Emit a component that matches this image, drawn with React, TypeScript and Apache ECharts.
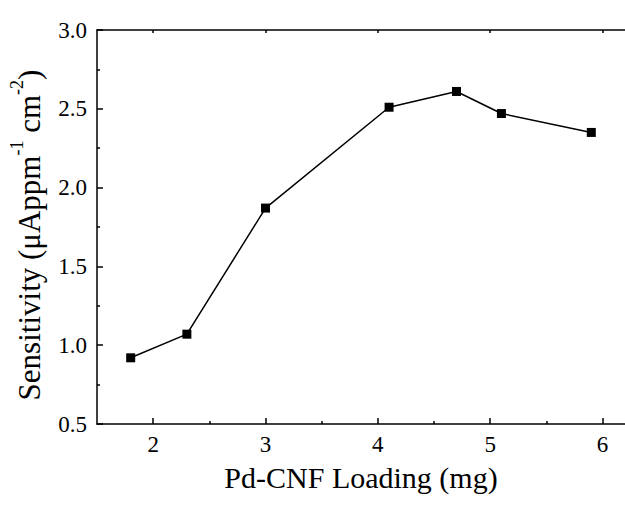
import React, { useEffect, useRef } from "react";
import * as echarts from "echarts";

const loading = [1.8, 2.3, 3.0, 4.1, 4.7, 5.1, 5.9];
const sensitivity = [0.92, 1.07, 1.87, 2.51, 2.61, 2.47, 2.35];
const xMajorTicks = [2, 3, 4, 5, 6];
const xMinorTicks = [2.5, 3.5, 4.5, 5.5];
const xTitle = "Pd-CNF Loading (mg)";

const FONT = '"Liberation Serif", "Times New Roman", serif';

export default function App() {
  const ref = useRef<HTMLDivElement>(null);
  useEffect(() => {
    if (!ref.current) return;
    const chart = echarts.init(ref.current, null, { renderer: "svg" });
    const data = loading.map((x, i) => [x, sensitivity[i]]);
    const lineStyle = { color: "#000", width: 1.5 };
    chart.setOption({
      animation: false,
      backgroundColor: "#fff",
      grid: { left: 96, top: 30, width: 531, height: 394 },
      xAxis: [
        {
          type: "value",
          position: "bottom",
          min: 1.5,
          max: 6.2,
          axisLine: { show: true, onZero: false, lineStyle },
          axisTick: { show: true, inside: true, length: 6, customValues: xMajorTicks, lineStyle },
          axisLabel: { customValues: xMajorTicks, fontFamily: FONT, fontSize: 23, color: "#000", margin: 9 },
          splitLine: { show: false },
          name: xTitle,
          nameLocation: "middle",
          nameGap: 38,
          nameTextStyle: { fontFamily: FONT, fontSize: 30, color: "#000" },
        },
        {
          type: "value",
          position: "bottom",
          min: 1.5,
          max: 6.2,
          axisLine: { show: false },
          axisTick: { show: true, inside: true, length: 3, customValues: xMinorTicks, lineStyle },
          axisLabel: { show: false },
          splitLine: { show: false },
        },
        {
          type: "value",
          position: "top",
          min: 1.5,
          max: 6.2,
          axisLine: { show: true, onZero: false, lineStyle },
          axisTick: { show: true, inside: true, length: 3, customValues: xMajorTicks, lineStyle },
          axisLabel: { show: false },
          splitLine: { show: false },
        },
      ],
      yAxis: {
        type: "value",
        min: 0.5,
        max: 3.0,
        interval: 0.5,
        axisLine: { show: true, onZero: false, lineStyle },
        axisTick: { show: true, inside: true, length: 6, lineStyle },
        minorTick: { show: true, splitNumber: 2, length: 3, lineStyle },
        axisLabel: {
          fontFamily: FONT,
          fontSize: 23,
          color: "#000",
          margin: 10,
          formatter: (v: number) => v.toFixed(1),
        },
        splitLine: { show: false },
        name: "{a|Sensitivity (μAppm}{s|-1}{a| cm}{s|-2}{a|)}",
        nameLocation: "middle",
        nameRotate: 90,
        nameGap: 52,
        nameTextStyle: {
          fontFamily: FONT,
          fontSize: 31,
          color: "#000",
          padding: [0, 16, 0, 0],
          rich: {
            a: { fontFamily: FONT, fontSize: 31, color: "#000", lineHeight: 37, verticalAlign: "bottom" },
            s: { fontFamily: FONT, fontSize: 18, color: "#000", lineHeight: 37, verticalAlign: "top" },
          },
        },
      },
      series: [
        {
          type: "line",
          xAxisIndex: 0,
          data,
          symbol: "rect",
          symbolSize: 9,
          itemStyle: { color: "#000" },
          lineStyle: { color: "#000", width: 1.5 },
        },
      ],
    });
    return () => chart.dispose();
  }, []);
  return (
    <div
      ref={ref}
      style={{ position: "absolute", left: 0, top: 0, width: 625, height: 506, overflow: "hidden" }}
    />
  );
}
